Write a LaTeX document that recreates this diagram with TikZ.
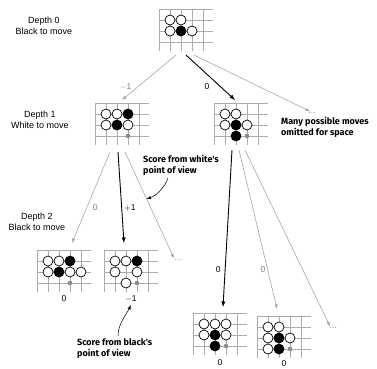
\documentclass[tikz,border=0pt]{standalone}
\usepackage{fontspec}
\setmainfont{Liberation Sans}
\newfontfamily\notefont{Fira Sans}
\usetikzlibrary{positioning}

\tikzset{
  boardbox/.style={minimum width=54pt, minimum height=42pt, inner sep=0pt, outer sep=0pt},
  gridline/.style={gray!65, line width=0.5pt},
  wstone/.style={draw=black, fill=white, line width=0.7pt},
  bstone/.style={fill=black},
  hintdot/.style={fill=black!45},
  lightedge/.style={-latex, gray!70, line width=0.6pt},
  darkedge/.style={-latex, black, line width=0.9pt},
  depthtxt/.style={align=center, font=\fontsize{9}{11}\selectfont},
  scoretxt/.style={font=\fontsize{8.5}{10}\selectfont, inner sep=1pt},
  notetxt/.style={align=left, inner sep=0pt, font=\notefont\bfseries\fontsize{9}{11}\selectfont},
  notearrow/.style={-latex, black, line width=0.5pt},
}

% board: name, top-left corner, white stones, black stones
\newcommand\goboard[4]{%
  \node[boardbox, anchor=north west] (#1) at (#2) {};
  \begin{scope}[shift={(#1.north west)}]
    \foreach \k in {0,...,4} \draw[gridline] (\k*11,0) -- (\k*11,42);
    \foreach \k in {0,...,3} \draw[gridline] (0,\k*11) -- (54,\k*11);
    \foreach \i/\j in {#3} \draw[wstone] (\i*11,\j*11) circle (5);
    \foreach \i/\j in {#4} \fill[bstone] (\i*11,\j*11) circle (5.4);
  \end{scope}}
% last move marker
\newcommand\hint[1]{\fill[hintdot, shift={(#1.north west)}] (33,33) circle (2.3);}

\begin{document}
\begin{tikzpicture}[x=1pt, y=-1pt]
\useasboundingbox (0,0) rectangle (377,368);

% depth captions
\node[depthtxt] (cap0) at (44,25.5) {Depth 0\\Black to move};
\node[depthtxt] (cap1) at (40,119.5) {Depth 1\\White to move};
\node[depthtxt] (cap2) at (37,222) {Depth 2\\Black to move};

% boards
\goboard{root}{159,9}{1/1,2/1,1/2,3/2}{2/2}
\goboard{d1a}{95,103}{1/1,2/1,1/2,3/2}{3/1,2/2}
\hint{d1a}
\goboard{d1b}{214,103}{1/1,2/1,1/2,3/2}{2/2,2/3}
\hint{d1b}
\goboard{d2a}{37,250}{1/1,2/1,1/2,3/2,4/2}{3/1,2/2}
\hint{d2a}
\goboard{d2b}{104,250}{1/1,2/1,1/2,3/2,2/3}{3/1}
\hint{d2b}
\goboard{d2c}{193,313}{1/1,2/1,3/1,1/2,3/2}{2/2,2/3}
\hint{d2c}
\goboard{d2d}{257,316}{1/1,2/1,1/2,3/2,1/3}{2/2,2/3}
\hint{d2d}

% scores under the leaves
\node[scoretxt, below=2pt of d2a] (sa) {0};
\node[scoretxt, below=2pt of d2b] (sb) {$-$1};
\node[scoretxt, below=3pt of d2c] (sc) {0};
\node[scoretxt, below=1pt of d2d] (sd) {0};

% omitted moves
\node[scoretxt, gray] (more1) at (312,113) {\dots};
\node[scoretxt, gray] (more2) at (178,260) {\dots};
\node[scoretxt, gray] (more3) at (333,328) {\dots};

% edges
\draw[lightedge] ([xshift=-10pt,yshift=-4pt]root.south) -- ([yshift=3pt]d1a.north)
  node[scoretxt, gray, pos=0.71, left=5pt] (la) {$-$1};
\draw[darkedge] ([yshift=-4pt]root.south) -- ([xshift=-6pt,yshift=3pt]d1b.north)
  node[scoretxt, pos=0.71, left=10pt] (lb) {0};
\draw[lightedge] ([xshift=8pt,yshift=-4pt]root.south) -- ([xshift=-2pt]more1.north);

\draw[lightedge] ([xshift=-12pt,yshift=-7pt]d1a.south) -- ([xshift=8pt,yshift=7pt]d2a.north)
  node[scoretxt, gray, pos=0.615, right=5pt] (lc) {0};
\draw[darkedge] ([xshift=-4pt,yshift=-7pt]d1a.south) -- ([xshift=-7pt,yshift=7pt]d2b.north)
  node[scoretxt, pos=0.615, right=1pt] (ld) {$+$1};
\draw[lightedge] ([xshift=3pt,yshift=-7pt]d1a.south) -- ([xshift=-4pt]more2.north)
  coordinate[pos=0.44] (hitw);

\draw[darkedge] ([xshift=-9pt,yshift=-5pt]d1b.south) -- ([xshift=3pt,yshift=6pt]d2c.north)
  node[scoretxt, pos=0.764, left=3pt] (le) {0};
\draw[lightedge] ([xshift=-2pt,yshift=-5pt]d1b.south) -- ([xshift=-7pt,yshift=7pt]d2d.north)
  node[scoretxt, gray, pos=0.755, left=1pt] (lf) {0};
\draw[lightedge] ([xshift=4pt,yshift=-5pt]d1b.south) -- ([xshift=-3pt]more3.north);

% notes
\node[notetxt, anchor=north west] (manynote) at (281,117) {Many possible moves\\omitted for space};
\node[notetxt, anchor=north west] (whitenote) at (143,155) {Score from white's\\point of view};
\node[notetxt, anchor=north west] (blacknote) at (77,338) {Score from black's\\point of view};

\draw[notearrow] ([xshift=25pt,yshift=-2pt]whitenote.south west) .. controls +(-2,8) and +(10,-3) .. (hitw);
\draw[notearrow] ([xshift=41pt,yshift=2pt]blacknote.north west) .. controls +(0,-12) and +(-5,10) .. ([yshift=-2pt]sb.south);
\end{tikzpicture}
\end{document}
